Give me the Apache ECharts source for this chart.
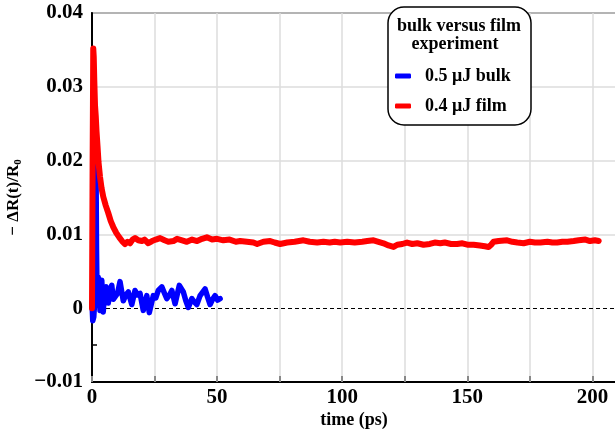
<!DOCTYPE html>
<html>
<head>
<meta charset="utf-8">
<script src="https://cdn.jsdelivr.net/npm/echarts@6/dist/echarts.min.js"></script>
<style>
  html, body { margin: 0; padding: 0; background: #fff; }
  #chart { width: 615px; height: 432px; }
</style>
</head>
<body>
<div id="chart"></div>
<script>
// Transient reflectivity, bulk vs. film: [time (ps), -dR/R0]
const bulkLabel = '0.5 \u03bcJ bulk';
const filmLabel = '0.4 \u03bcJ film';

const bulkData = [
  [0, 0.0008], [0.3, -0.0017], [0.7, -0.0012], [1.1, 0.001], [1.4, 0.012], [1.6, 0.0196],
  [1.8, 0.008], [2.0, 0.002], [2.5, 0.0042], [3.2, -0.0003], [3.9, 0.0038], [4.5, -0.0005],
  [5.0, 0.0025], [5.6, 0.0029], [6.5, 0.0007], [7.2, 0.0025], [7.9, 0.0031], [8.5, 0.0012],
  [9.2, 0.0010], [10.2, 0.0020], [11.2, 0.0036], [12.5, 0.0010], [13.5, 0.0018], [14.5, 0.0022],
  [15.9, 0.0005], [17.2, 0.0024], [18.2, 0.0018], [19.2, 0.0020], [20.5, -0.0003], [21.9, 0.0017],
  [22.9, -0.0006], [24.5, 0.0017], [25.5, 0.0014], [26.5, 0.0024], [27.9, 0.0029], [29, 0.0020],
  [29.9, 0.0013], [31, 0.0018], [31.9, 0.0024], [33.2, 0.0006], [34.9, 0.0031], [36.5, 0.0022],
  [37.5, 0.0010], [38.5, 0.0001], [39.9, 0.0013], [41, 0.0008], [41.9, 0.0005], [43.2, 0.0017],
  [45.2, 0.0026], [46.2, 0.0015], [47.2, 0.0005], [48.2, 0.0012], [49.2, 0.0017], [50.2, 0.0011],
  [51.2, 0.0013]
];

const filmData = [
  [0, 0], [0.25, 0.02], [0.5, 0.0352], [0.7, 0.034], [0.9, 0.031], [1.2, 0.0275], [1.5, 0.026],
  [1.8, 0.024], [2.2, 0.022], [2.6, 0.0198], [3.2, 0.0178], [3.8, 0.0163], [4.5, 0.0151],
  [5.5, 0.0139], [6.5, 0.0129], [7.5, 0.0118], [8.5, 0.0110], [9.7, 0.0102], [10.9, 0.0096],
  [12, 0.0091], [13.2, 0.0087], [14.2, 0.0090], [15.2, 0.0088], [16.2, 0.0093], [17.2, 0.0095],
  [18.5, 0.0092], [19.9, 0.0091], [21, 0.0093], [22.5, 0.0088], [24, 0.0091], [25.5, 0.0093],
  [27.2, 0.0095], [29, 0.0092], [30.5, 0.0090], [32.5, 0.0091], [34, 0.0094], [36, 0.0092],
  [37.9, 0.0090], [40, 0.0093], [42, 0.0091], [44, 0.0094], [45.9, 0.0096], [48, 0.0093],
  [50, 0.0094], [52.5, 0.0092], [55, 0.0093], [57.5, 0.0090], [59.2, 0.0091], [61.9, 0.0090],
  [64.5, 0.0089], [66, 0.0087], [68.5, 0.0090], [71.2, 0.0091], [73, 0.0089], [75.2, 0.0087],
  [78, 0.0089], [81, 0.0090], [84.5, 0.0092], [87, 0.0090], [90, 0.0089], [92.5, 0.0090],
  [95, 0.0089], [97, 0.0090], [99.2, 0.0089], [102, 0.0090], [105, 0.0089], [108, 0.0090],
  [110, 0.0091], [112.5, 0.0092], [114.5, 0.0090], [116.5, 0.0088], [118.5, 0.0085], [120.5, 0.0083],
  [122, 0.0086], [124, 0.0087], [125.9, 0.0089], [128, 0.0087], [130, 0.0088], [132.5, 0.0086],
  [135, 0.0087], [137, 0.0089], [139.2, 0.0088], [141, 0.0089], [143.5, 0.0087], [145.9, 0.0087],
  [148, 0.0088], [150, 0.0086], [152.5, 0.0086], [155, 0.0085], [157, 0.0084], [158.5, 0.0083],
  [159.5, 0.0086], [160.5, 0.0090], [162.5, 0.0091], [165.9, 0.0092], [168, 0.0090], [170, 0.0089],
  [172.5, 0.0088], [175, 0.0090], [177, 0.0089], [179.2, 0.0089], [182, 0.0090], [184, 0.0089],
  [185.9, 0.0089], [188, 0.0090], [190, 0.0090], [192.5, 0.0091], [194.5, 0.0092], [197.2, 0.0093],
  [199, 0.0091], [201, 0.0092], [202.5, 0.0091]
];

const xTicks = { min: 0, max: 225, interval: 25, labelStep: 50 };
const yTicks = { min: -0.01, max: 0.04, interval: 0.01 };

const FONT = '"Liberation Serif", "Times New Roman", serif';

function fmtY(v) {
  const r = Math.round(v * 100) / 100;
  if (r === 0) return '0';
  return (r < 0 ? '\u2212' : '') + Math.abs(r).toFixed(2);
}

function fmtX(v) {
  return (v % xTicks.labelStep === 0 && v <= 200) ? String(v) : '';
}

const chart = echarts.init(document.getElementById('chart'), null, { renderer: 'canvas' });

chart.setOption({
  animation: false,
  backgroundColor: '#fff',
  grid: {
    left: 92, top: 13, width: 563, height: 369,
    outerBoundsMode: 'none',
    containLabel: false,
    show: true, borderColor: '#000', borderWidth: 1.5, backgroundColor: 'transparent'
  },
  xAxis: {
    type: 'value',
    min: xTicks.min, max: xTicks.max, interval: xTicks.interval,
    axisLine: { onZero: false, lineStyle: { color: '#000', width: 2 } },
    axisTick: { inside: true, length: 6, lineStyle: { color: '#888', width: 2 } },
    splitLine: { show: true, lineStyle: { color: '#dcdcdc', width: 1.5 } },
    axisLabel: {
      margin: 5, color: '#000', fontFamily: FONT, fontWeight: 'bold', fontSize: 21,
      showMaxLabel: false,
      formatter: fmtX
    }
  },
  yAxis: [{
    type: 'value',
    min: yTicks.min, max: yTicks.max, interval: yTicks.interval,
    axisLine: { onZero: false, lineStyle: { color: '#000', width: 2 } },
    axisTick: { show: false },
    splitLine: {
      show: true,
      lineStyle: { color: ['#dcdcdc', 'rgba(0,0,0,0)', '#dcdcdc', '#dcdcdc', '#dcdcdc', '#dcdcdc'], width: 1.5 }
    },
    axisLabel: {
      margin: 9, color: '#000', fontFamily: FONT, fontWeight: 'bold', fontSize: 21,
      formatter: fmtY
    },
    name: '{a|\u2212 \u0394R(t)/R}{s|0}',
    nameLocation: 'middle',
    nameRotate: 90,
    nameGap: 58,
    nameTextStyle: {
      color: '#000',
      rich: {
        a: { fontFamily: FONT, fontWeight: 'bold', fontSize: 17, color: '#000' },
        s: { fontFamily: FONT, fontWeight: 'bold', fontSize: 11, color: '#000', verticalAlign: 'top', padding: [9, 0, 0, 0] }
      }
    }
  }, {
    // extra half-step tick on the left axis
    type: 'value',
    min: yTicks.min, max: yTicks.max,
    position: 'left',
    axisLine: { show: false },
    axisLabel: { show: false },
    splitLine: { show: false },
    axisTick: { show: true, inside: true, length: 5, customValues: [-0.005], lineStyle: { color: '#000', width: 1.5 } }
  }],
  legend: {
    orient: 'vertical',
    left: 390,
    top: 62,
    itemWidth: 16,
    itemHeight: 5,
    itemGap: 12,
    icon: 'roundRect',
    formatter: n => '  ' + n,
    textStyle: { fontFamily: FONT, fontWeight: 'bold', fontSize: 18, color: '#000' },
    data: [bulkLabel, filmLabel],
    z: 20
  },
  graphic: [
    {
      type: 'rect', z: 10,
      shape: { x: 388, y: 7, width: 143, height: 118, r: 16 },
      style: { fill: '#fff', stroke: '#000', lineWidth: 1.5 }
    },
    {
      type: 'text', z: 11, x: 459, y: 26,
      style: { text: 'bulk versus film', font: 'bold 18px ' + FONT, fill: '#000', align: 'center', verticalAlign: 'middle' }
    },
    {
      type: 'text', z: 11, x: 455, y: 44,
      style: { text: 'experiment', font: 'bold 18px ' + FONT, fill: '#000', align: 'center', verticalAlign: 'middle' }
    },
    {
      type: 'text', z: 11, x: 354, y: 420,
      style: { text: 'time (ps)', font: 'bold 18px ' + FONT, fill: '#000', align: 'center', verticalAlign: 'middle' }
    }
  ],
  series: [
    {
      name: bulkLabel,
      type: 'line',
      data: bulkData,
      showSymbol: false,
      symbol: 'none',
      color: '#0000ff',
      lineStyle: { color: '#0000ff', width: 5.5, join: 'round', cap: 'round' },
      markLine: {
        silent: true,
        symbol: 'none',
        label: { show: false },
        lineStyle: { color: '#000', type: [4, 3], width: 1 },
        data: [{ yAxis: 0 }],
        z: 1
      }
    },
    {
      name: filmLabel,
      type: 'line',
      data: filmData,
      showSymbol: false,
      symbol: 'none',
      color: '#ff0000',
      lineStyle: { color: '#ff0000', width: 6, join: 'round', cap: 'round' }
    }
  ]
});
</script>
</body>
</html>
